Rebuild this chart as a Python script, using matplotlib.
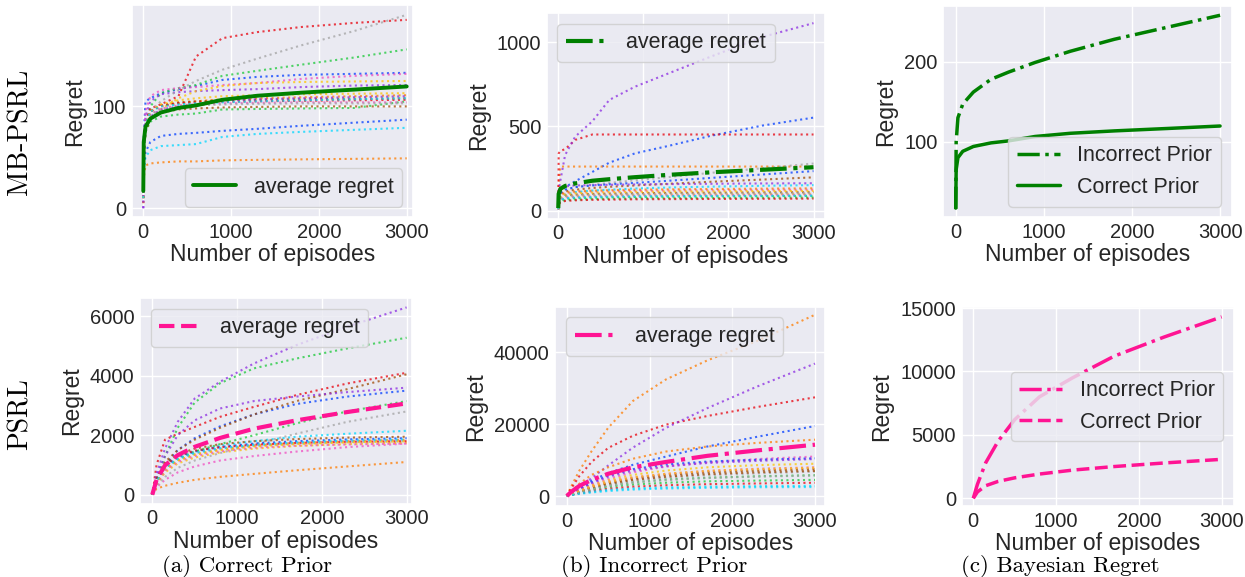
import matplotlib
matplotlib.use("Agg")
import matplotlib.pyplot as plt
import seaborn as sns
from matplotlib.ticker import MultipleLocator

sns.set_theme(style="darkgrid")
plt.rcParams['font.family'] = ['Liberation Sans', 'DejaVu Sans']

# ---------------- data ----------------
episodes_mb = [0, 5, 25, 80, 200, 400, 600, 900, 1300, 1800, 2400, 3000]
episodes_psrl = [0, 50, 150, 300, 500, 800, 1200, 1700, 2300, 3000]

run_colors = ["#023eff", "#ff7c00", "#1ac938", "#e8000b", "#8b2be2",
              "#9f4800", "#f14cc1", "#a3a3a3", "#ffc400", "#00d7ff"]

mb_correct_runs = [
    [15, 70, 105, 108, 113, 117, 120, 126, 129, 131, 132, 133],
    [5, 60, 80, 95, 100, 103, 105, 107, 108, 109, 110, 111],
    [10, 50, 80, 100, 113, 118, 121, 130, 135, 141, 148, 156],
    [10, 60, 85, 98, 102, 110, 149, 167, 173, 178, 182, 185],
    [0, 60, 90, 105, 112, 114, 115, 116, 117, 119, 120.5, 121],
    [10, 55, 80, 95, 101, 104, 105, 106, 106.5, 107, 107.5, 108],
    [10, 65, 95, 110, 116, 118, 119, 121, 123, 127, 130, 132],
    [10, 55, 80, 95, 105, 116, 125, 136, 147, 160, 174, 190],
    [10, 50, 75, 88, 97, 108, 115, 120, 123, 124, 124.5, 125],
    [10, 38, 50, 57, 61, 62, 63, 70, 73, 75, 77, 79],
    [10, 40, 55, 65, 71, 73, 74, 76, 78, 81, 84, 87],
    [5, 30, 42, 44, 45, 46, 46, 47, 47.5, 48, 48.5, 49],
    [10, 50, 75, 85, 90, 92, 93, 97, 97.5, 98, 98.5, 105],
    [10, 55, 80, 95, 101, 103, 104, 104.5, 105, 105.5, 106, 106.5],
    [0, 45, 75, 90, 97, 100, 101, 106, 107, 108, 109, 110],
    [10, 50, 75, 88, 94, 97, 98, 99, 99.5, 100, 100, 100],
    [10, 55, 80, 92, 98, 101, 102, 103, 103.5, 104, 104, 104],
    [10, 55, 80, 92, 97, 100, 101, 102, 102.5, 103, 103, 103],
    [10, 55, 80, 95, 102, 106, 108, 110, 111, 112, 112.5, 113],
    [10, 55, 82, 95, 100, 102, 103, 104, 105, 106, 107, 108],
]

mb_incorrect_runs = [
    [10, 80, 110, 140, 175, 230, 285, 340, 385, 445, 505, 552],
    [10, 150, 262, 262, 262, 262, 262, 262, 262, 262, 262, 262],
    [10, 45, 62, 70, 75, 78, 80, 82, 84, 85, 87, 88],
    [10, 340, 355, 365, 420, 452, 452, 452, 452, 452, 452, 452],
    [15, 120, 180, 330, 440, 530, 657, 735, 815, 915, 1030, 1112],
    [10, 80, 100, 115, 125, 135, 142, 150, 160, 172, 185, 198],
    [10, 60, 90, 103, 110, 114, 116, 118, 120, 122, 124, 125],
    [10, 80, 110, 125, 140, 155, 165, 180, 200, 225, 252, 280],
    [10, 50, 72, 82, 88, 91, 93, 95, 96, 97, 99, 100],
    [10, 60, 80, 95, 110, 120, 125, 132, 138, 143, 148, 152],
    [10, 80, 105, 125, 140, 150, 157, 165, 178, 195, 215, 235],
    [10, 65, 95, 108, 115, 119, 122, 125, 127, 129, 131, 133],
    [10, 40, 55, 62, 66, 69, 71, 73, 74, 75, 77, 78],
    [10, 38, 50, 58, 62, 65, 66, 68, 69, 70, 71, 72],
    [10, 90, 130, 145, 150, 152, 154, 156, 158, 160, 162, 163],
    [10, 55, 78, 90, 96, 100, 102, 104, 106, 107, 109, 110],
    [10, 48, 68, 78, 83, 86, 88, 90, 91, 92, 94, 95],
    [10, 52, 75, 86, 92, 95, 97, 99, 101, 102, 104, 105],
    [10, 58, 85, 97, 104, 108, 110, 112, 114, 115, 117, 118],
    [10, 45, 65, 74, 79, 82, 84, 86, 87, 88, 89, 90],
]

mb_correct_avg = [17, 65, 80, 88, 94, 98.5, 101, 106.5, 110.5, 113.5, 116.5, 119.6]
mb_incorrect_avg = [16, 100, 130, 147, 162, 178, 187, 199, 213, 228, 243, 258]

psrl_correct_runs = [
    [0, 500, 1000, 1500, 1900, 2300, 2700, 3050, 3300, 3500],
    [0, 400, 850, 1150, 1350, 1520, 1650, 1740, 1800, 1850],
    [0, 500, 1300, 2250, 3100, 3750, 4250, 4580, 4920, 5280],
    [0, 1000, 1850, 2050, 2280, 2620, 2955, 3350, 3740, 4100],
    [0, 700, 1550, 2450, 3235, 3800, 4415, 5030, 5650, 6300],
    [0, 500, 1100, 1500, 1850, 2250, 2700, 3150, 3550, 4050],
    [0, 250, 500, 750, 950, 1150, 1300, 1450, 1600, 1720],
    [0, 300, 600, 900, 1150, 1400, 1700, 2050, 2450, 2800],
    [0, 350, 750, 1050, 1250, 1420, 1550, 1640, 1700, 1750],
    [0, 500, 1000, 1300, 1450, 1650, 1800, 1950, 2050, 2150],
    [0, 450, 950, 1250, 1450, 1600, 1720, 1800, 1860, 1900],
    [0, 200, 300, 400, 500, 600, 700, 820, 950, 1100],
    [0, 400, 900, 1200, 1450, 1700, 2000, 2400, 2800, 3150],
    [0, 500, 1000, 1300, 1480, 1600, 1680, 1740, 1780, 1800],
    [0, 600, 1300, 2000, 2500, 2900, 3150, 3300, 3450, 3600],
    [0, 550, 1050, 1350, 1550, 1700, 1800, 1870, 1920, 1950],
    [0, 350, 800, 1100, 1300, 1460, 1580, 1650, 1690, 1720],
    [0, 400, 900, 1200, 1400, 1550, 1650, 1720, 1770, 1800],
    [0, 400, 850, 1150, 1350, 1500, 1620, 1700, 1760, 1800],
    [0, 450, 900, 1200, 1400, 1560, 1680, 1760, 1820, 1860],
]

psrl_incorrect_runs = [
    [0, 700, 2200, 4300, 6400, 8700, 11000, 13800, 16500, 19500],
    [0, 2500, 7000, 12500, 19000, 26500, 32500, 37800, 43200, 50500],
    [0, 400, 1100, 2000, 2900, 3800, 4600, 5100, 5500, 5800],
    [0, 2000, 5500, 9500, 13400, 16800, 19900, 22300, 24800, 27500],
    [0, 800, 2500, 5000, 8500, 13500, 19000, 24500, 30500, 36900],
    [0, 450, 1300, 2500, 3700, 4900, 5900, 6600, 7100, 7500],
    [0, 600, 1700, 3200, 4800, 6600, 8200, 9400, 10300, 11000],
    [0, 400, 1100, 2100, 3100, 4200, 5100, 5800, 6300, 6800],
    [0, 550, 1600, 3000, 4400, 5900, 7100, 8000, 8600, 9000],
    [0, 200, 600, 1000, 1400, 1800, 2100, 2300, 2450, 2500],
    [0, 700, 2000, 3800, 5700, 7500, 8800, 9600, 10100, 10500],
    [0, 1200, 3400, 5900, 8000, 10400, 12400, 13800, 14800, 15700],
    [0, 350, 1000, 1800, 2500, 3200, 3700, 4100, 4300, 4500],
    [0, 300, 800, 1400, 2000, 2600, 3000, 3300, 3500, 3700],
    [0, 650, 1900, 3600, 5400, 7100, 8300, 9200, 9800, 10300],
    [0, 400, 1200, 2300, 3400, 4500, 5400, 6100, 6600, 7000],
    [0, 500, 1400, 2700, 4000, 5200, 6200, 7000, 7600, 8000],
    [0, 350, 1000, 1900, 2800, 3700, 4400, 5000, 5400, 5700],
    [0, 500, 1400, 2600, 3900, 5200, 6200, 7000, 7500, 7900],
    [0, 250, 700, 1200, 1700, 2100, 2400, 2600, 2750, 2850],
]

psrl_correct_avg = [0, 500, 990, 1330, 1610, 1910, 2220, 2500, 2780, 3070]
psrl_incorrect_avg = [0, 1100, 2800, 4500, 6200, 8000, 9500, 11200, 12700, 14300]

row_labels = ["MB-PSRL", "PSRL"]
captions = ["(a) Correct Prior", "(b) Incorrect Prior", "(c) Bayesian Regret"]
xticks = [0, 1000, 2000, 3000]

# ---------------- figure ----------------
W, H = 1245, 577
fig = plt.figure(figsize=(W / 100, H / 100), dpi=100)


def make_ax(left, right, top, bottom):
    return fig.add_axes([left / W, 1 - bottom / H, (right - left) / W, (bottom - top) / H])


TICK = 14.5
LAB = 16.5
LEG = 15.5
GREEN = "green"
PINK = "#ff1493"


def style(ax, xlim, ylim, ystep):
    ax.set_xlim(*xlim)
    ax.set_ylim(*ylim)
    ax.set_xticks(xticks)
    ax.yaxis.set_major_locator(MultipleLocator(ystep))
    ax.tick_params(labelsize=TICK, labelcolor="0.15", length=0)
    ax.tick_params(axis="x", pad=4)
    ax.tick_params(axis="y", pad=4)
    ax.set_xlabel("Number of episodes", fontsize=LAB, labelpad=1, color="0.15")
    ax.set_ylabel("Regret", fontsize=LAB, labelpad=5, color="0.15")


def draw_runs(ax, x, runs):
    for i, r in enumerate(runs):
        ax.plot(x, r, ls=":", lw=1.5, color=run_colors[i % 10], alpha=0.75)


# Row 1
ax = make_ax(131.7, 412.7, 5, 217.3)
draw_runs(ax, episodes_mb, mb_correct_runs)
ax.plot(episodes_mb, mb_correct_avg, "-", color=GREEN, lw=2.8, label="average regret")
style(ax, (-132, 3068), (-8.9, 199.6), 100)
ax.legend(loc="lower right", fontsize=LEG)

ax = make_ax(546.7, 825, 13, 218.7)
draw_runs(ax, episodes_mb, mb_incorrect_runs)
ax.plot(episodes_mb, mb_incorrect_avg, "-.", color=GREEN, lw=3, label="average regret")
style(ax, (-136, 3135), (-47, 1172), 500)
ax.legend(loc="upper left", fontsize=LEG)

ax = make_ax(943.3, 1231.7, 6, 217.3)
ax.plot(episodes_mb, mb_incorrect_avg, "-.", color=GREEN, lw=2.5, label="Incorrect Prior")
ax.plot(episodes_mb, mb_correct_avg, "-", color=GREEN, lw=2.5, label="Correct Prior")
style(ax, (-141, 3132), (5.5, 269.6), 100)
ax.legend(loc="lower right", fontsize=LEG)

# Row 2
ax = make_ax(140, 411.7, 298, 503.7)
draw_runs(ax, episodes_psrl, psrl_correct_runs)
ax.plot(episodes_psrl, psrl_correct_avg, "--", color=PINK, lw=3, label="average regret")
style(ax, (-145, 3060), (-303, 6616), 2000)
ax.legend(loc="upper left", fontsize=LEG)

ax = make_ax(555.3, 825, 306.7, 506)
draw_runs(ax, episodes_psrl, psrl_incorrect_runs)
ax.plot(episodes_psrl, psrl_incorrect_avg, "-.", color=PINK, lw=3, label="average regret")
style(ax, (-139, 3121), (-2780, 52750), 20000)
ax.legend(loc="upper left", fontsize=LEG)

ax = make_ax(961.7, 1234, 307, 506)
ax.plot(episodes_psrl, psrl_incorrect_avg, "-.", color=PINK, lw=2.5, label="Incorrect Prior")
ax.plot(episodes_psrl, psrl_correct_avg, "--", color=PINK, lw=2.5, label="Correct Prior")
style(ax, (-140, 3149), (-610, 15080), 5000)
ax.legend(loc="center right", fontsize=LEG)

# Row labels and captions
fig.text(20 / W, 1 - 132 / H, row_labels[0], rotation=90, ha="center", va="center",
         fontsize=20, family=["cmr10", "DejaVu Serif"], color="black")
fig.text(20 / W, 1 - 414 / H, row_labels[1], rotation=90, ha="center", va="center",
         fontsize=20, family=["cmr10", "DejaVu Serif"], color="black")
for cx, txt in zip([247, 654, 1060], captions):
    fig.text(cx / W, 1 - 567 / H, txt, ha="center", va="center", fontsize=16.5,
             family=["cmr10", "DejaVu Serif"], color="black")

fig.savefig("out.png", dpi=100)
